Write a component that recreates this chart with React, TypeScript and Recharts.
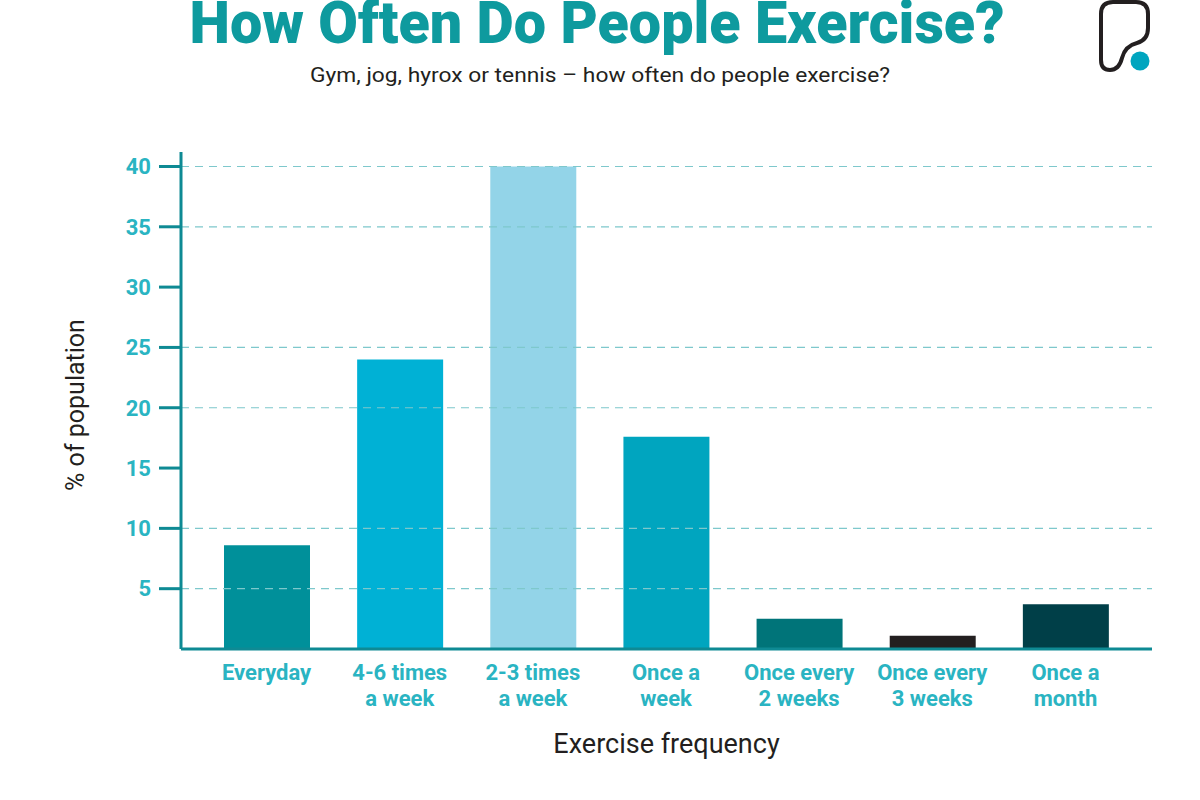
import { BarChart, Bar, XAxis, YAxis, Cell, ReferenceLine } from 'recharts'

const categories = [
  'Everyday',
  '4-6 times|a week',
  '2-3 times|a week',
  'Once a|week',
  'Once every|2 weeks',
  'Once every|3 weeks',
  'Once a|month',
]
const shares = [8.6, 24.0, 40.0, 17.6, 2.5, 1.1, 3.7]
const barColors = ['#00909a', '#00b1d5', '#93d4e8', '#00a5bf', '#007479', '#231f20', '#003f48']
const yTicks = [5, 10, 15, 20, 25, 30, 35, 40]
const gridValues = [5, 10, 20, 25, 35, 40]

const data = categories.map((c, i) => ({ category: c, share: shares[i] }))

const FONT = 'Roboto, "Noto Sans", sans-serif'
const AXIS = '#0e8a94'
const TICK_TEXT = '#2ab4c2'
const DARK = '#231f20'

function XTick({ x, y, payload }: any) {
  const lines = String(payload.value).split('|')
  return (
    <text x={x} y={y} textAnchor="middle" fill={TICK_TEXT} fontFamily={FONT} fontWeight={700} fontSize={22}>
      {lines.map((l, i) => (
        <tspan key={i} x={x} dy={i === 0 ? 22.5 : 26}>
          {l}
        </tspan>
      ))}
    </text>
  )
}

function YLabel() {
  return (
    <text
      x={84}
      y={405}
      transform="rotate(-90 84 405)"
      textAnchor="middle"
      fill={DARK}
      fontFamily={FONT}
      fontSize={25}
    >
      % of population
    </text>
  )
}

function Header() {
  return (
    <svg width={1200} height={800} style={{ position: 'absolute', left: 0, top: 0, pointerEvents: 'none' }}>
      <text
        x={597}
        y={43}
        textAnchor="middle"
        fill="#0e9a9e"
        fontFamily={FONT}
        fontWeight={900}
        fontSize={60}
        textLength={815}
        lengthAdjust="spacingAndGlyphs"
      >
        How Often Do People Exercise?
      </text>
      <text
        x={600}
        y={82}
        textAnchor="middle"
        fill={DARK}
        fontFamily={FONT}
        fontSize={21}
        textLength={580}
        lengthAdjust="spacingAndGlyphs"
      >
        Gym, jog, hyrox or tennis – how often do people exercise?
      </text>
      <path
        d="M1113,2 Q1101,2 1101,14 L1101,60 Q1101,70 1110,70 Q1119,70 1122,58 Q1125,46 1137,43 Q1148,40 1148,28 L1148,14 Q1148,2 1136,2 Z"
        fill="none"
        stroke={DARK}
        strokeWidth={4}
      />
      <circle cx={1140} cy={61} r={9.5} fill="#00a5bf" />
    </svg>
  )
}

export default function App() {
  return (
    <div style={{ position: 'absolute', left: 0, top: 0, width: 1200, height: 800, background: '#fff' }}>
      <BarChart
        width={1200}
        height={800}
        data={data}
        margin={{ top: 152, right: 48, left: 0, bottom: 0 }}
        barSize={86}
      >
        {gridValues.map((v) => (
          <ReferenceLine key={v} y={v} stroke="#7ec8cc" strokeDasharray="8 6" strokeWidth={1.2} />
        ))}
        <XAxis
          dataKey="category"
          interval={0}
          height={151}
          padding={{ left: 19, right: 20 }}
          axisLine={{ stroke: AXIS, strokeWidth: 3 }}
          tickLine={false}
          tick={<XTick />}
          label={{
            value: 'Exercise frequency',
            position: 'insideTop',
            dy: 80,
            fill: DARK,
            fontSize: 27,
            fontFamily: FONT,
          }}
        />
        <YAxis
          width={181}
          domain={[0, 41.2]}
          ticks={yTicks}
          interval={0}
          tickSize={22}
          tickMargin={8}
          axisLine={{ stroke: AXIS, strokeWidth: 3 }}
          tickLine={{ stroke: AXIS, strokeWidth: 3 }}
          tick={{ fill: TICK_TEXT, fontFamily: FONT, fontWeight: 700, fontSize: 22 }}
          label={{ content: () => <YLabel /> }}
        />
        <Bar dataKey="share" isAnimationActive={false}>
          {data.map((d, i) => (
            <Cell key={d.category} fill={barColors[i]} />
          ))}
        </Bar>
      </BarChart>
      <Header />
    </div>
  )
}
